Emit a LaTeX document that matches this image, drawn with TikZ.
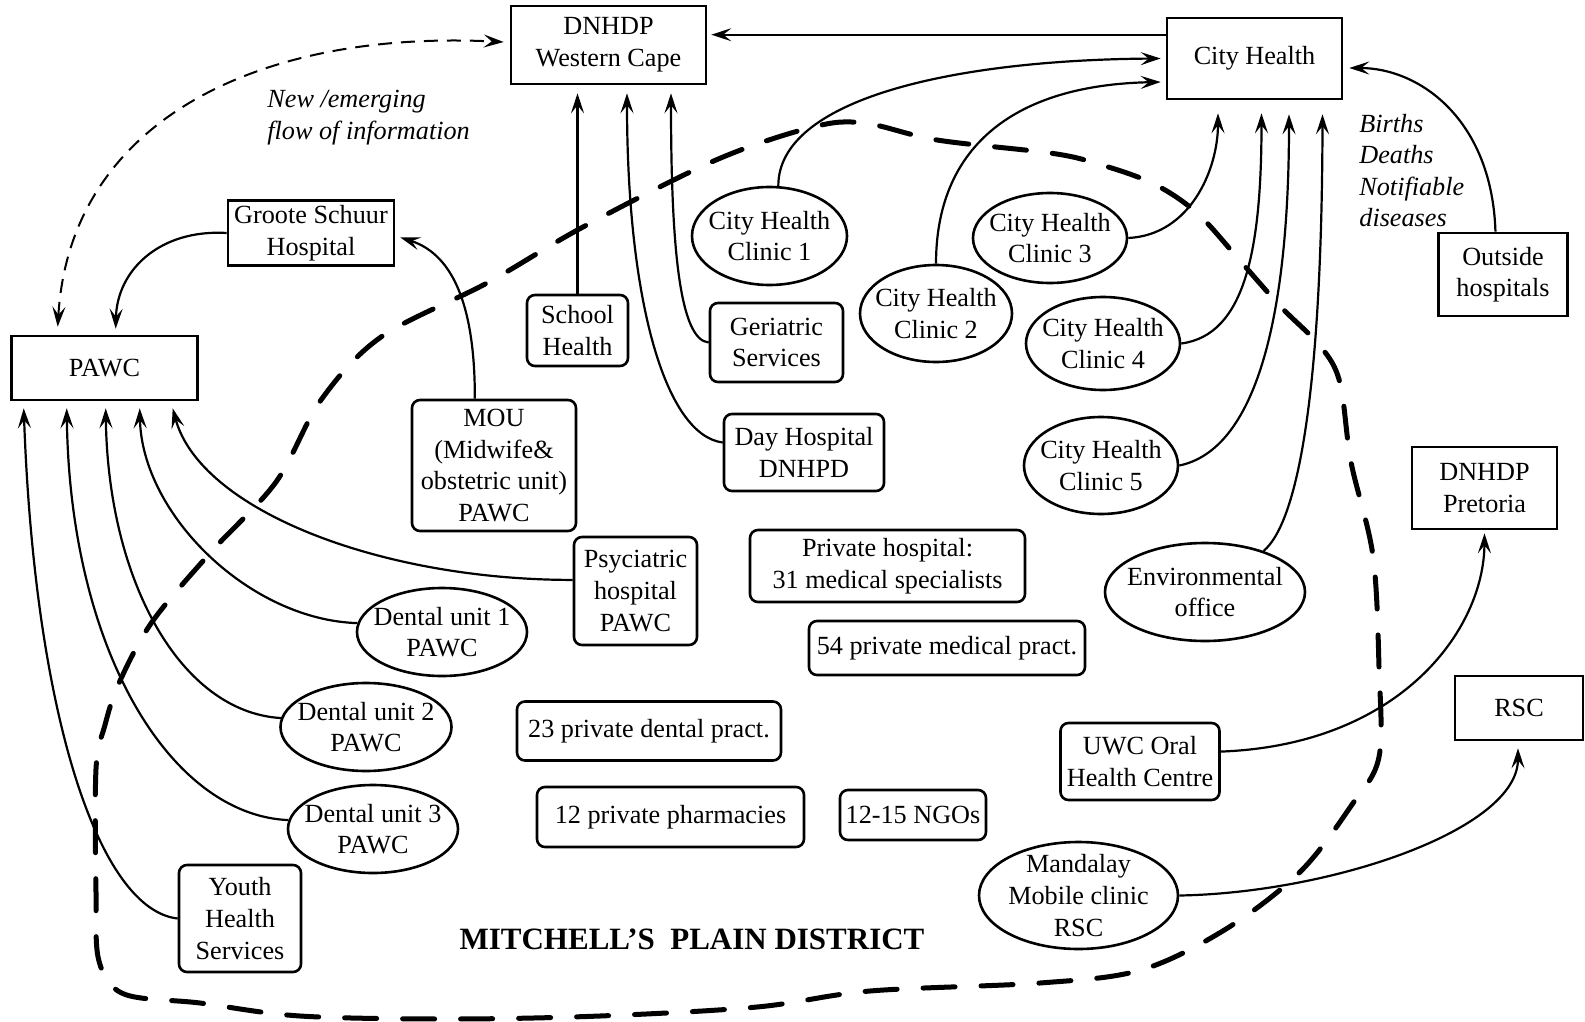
\documentclass[tikz,border=0pt]{standalone}
\usepackage{fontspec}
\setmainfont{Liberation Serif}
\usetikzlibrary{arrows.meta,shapes.geometric,calc}

\begin{document}
\begin{tikzpicture}[x=0.5pt,y=-0.5pt,
    every node/.style={font=\fontsize{13.1}{15.8}\selectfont, align=center, inner sep=0pt},
    box/.style={draw, line width=1.3pt},
    rbox/.style={box, rounded corners=4pt},
    oval/.style={draw, line width=1.3pt, ellipse, inner xsep=-12pt, inner ysep=-4pt},
    wh/.style 2 args={minimum width=#1*0.5pt, minimum height=#2*0.5pt},
    arr/.style={line width=1.1pt, -{Stealth[length=10pt,width=6.5pt,inset=4pt]}},
    flow/.style={line width=1pt, dash pattern=on 7pt off 4.5pt,
        {Stealth[length=10pt,width=6.5pt,inset=4pt]}-{Stealth[length=10pt,width=6.5pt,inset=4pt]}},
    district/.style={line width=2.5pt, line cap=round, dash pattern=on 16pt off 13pt}]
    \useasboundingbox (0,0) rectangle (1585,1022);

    % Head offices
    \node[box, wh={195}{78}] (dnwc) at (608.5,45) {DNHDP\\Western Cape};
    \node[box, wh={175}{81}] (ch) at (1254.5,58.5) {City Health};
    \node[box, wh={166}{65}] (gs) at (311,233) {Groote Schuur\\Hospital};
    \node[box, wh={186}{64}] (pawc) at (104.5,368) {PAWC};
    \node[box, wh={129}{83}] (outside) at (1503,274.5) {Outside\\hospitals};
    \node[box, wh={145}{82}] (pret) at (1484.5,488) {DNHDP\\Pretoria};
    \node[box, wh={128}{64}] (rsc) at (1519,708) {RSC};

    % Services in the district
    \node[rbox, wh={101}{71}] (school) at (577.5,330.5) {School\\Health};
    \node[rbox, wh={133}{79}] (geri) at (776.5,342.5) {Geriatric\\Services};
    \node[rbox, wh={160}{77}] (dayhosp) at (804,452.5) {Day Hospital\\DNHPD};
    \node[rbox, wh={164}{131}] (mou) at (494,465.5) {MOU\\(Midwife\&\\obstetric unit)\\PAWC};
    \node[rbox, wh={123}{108}] (psych) at (635.5,591) {Psyciatric\\hospital\\PAWC};
    \node[oval, wh={170}{88}] (dent1) at (442,632) {Dental unit 1\\PAWC};
    \node[oval, wh={171}{88}] (dent2) at (366,727) {Dental unit 2\\PAWC};
    \node[oval, wh={170}{88}] (dent3) at (373,829) {Dental unit 3\\PAWC};
    \node[rbox, wh={122}{107}] (youth) at (240,918.5) {Youth\\Health\\Services};
    \node[oval, wh={155}{98}] (clin1) at (769.5,236) {City Health\\Clinic 1};
    \node[oval, wh={152}{97}] (clin2) at (936,313.5) {City Health\\Clinic 2};
    \node[oval, wh={154}{90}] (clin3) at (1050,238) {City Health\\Clinic 3};
    \node[oval, wh={154}{93}] (clin4) at (1103,343.5) {City Health\\Clinic 4};
    \node[oval, wh={154}{97}] (clin5) at (1101,465.5) {City Health\\Clinic 5};
    \node[oval, wh={200}{98}] (env) at (1205,592) {Environmental\\office};
    \node[rbox, wh={275}{72}] (privhosp) at (887.5,566) {Private hospital:\\31 medical specialists};
    \node[rbox, wh={276}{54}] (medpract) at (947,648) {54 private medical pract.};
    \node[rbox, wh={264}{59}] (dentpract) at (649,731) {23 private dental pract.};
    \node[rbox, wh={267}{60}] (pharm) at (670.5,817) {12 private pharmacies};
    \node[rbox, wh={146}{50}] (ngo) at (913,815) {12-15 NGOs};
    \node[rbox, wh={159}{77}] (uwc) at (1140,761.5) {UWC Oral\\Health Centre};
    \node[oval, wh={199}{107}] (mandalay) at (1078.5,895.5) {Mandalay\\Mobile clinic\\RSC};

    % Labels
    \node[font=\fontsize{13.1}{15.8}\selectfont\itshape, align=left, anchor=west] (newflow) at (267,117.5) {New /emerging\\flow of information};
    \node[font=\fontsize{13.1}{15.8}\selectfont\itshape, align=left, anchor=west] (vital) at (1359,170.5) {Births\\Deaths\\Notifiable\\diseases};
    \node[font=\fontsize{15.5}{18}\selectfont\bfseries] (distname) at (692,939) {MITCHELL’S\ \ PLAIN DISTRICT};

    % Flows to PAWC
    \draw[arr] (youth.west) .. controls (100,910) and (35,720) .. ($(pawc.south west)+(13.5,7)$);
    \draw[arr] (dent3.174) .. controls (170,815) and (70,650) .. ($(pawc.south west)+(56.5,7)$);
    \draw[arr] (dent2.174) .. controls (180,712) and (108,580) .. ($(pawc.south west)+(95.5,7)$);
    \draw[arr] (dent1.174) .. controls (250,620) and (142,515) .. ($(pawc.south west)+(129.5,7)$);
    \draw[arr] (psych.170) .. controls (380,580) and (200,510) .. ($(pawc.south west)+(162.5,7)$);
    \draw[arr] (gs.west) .. controls (160,229) and (117,270) .. ($(pawc.north west)+(105.5,-6)$);
    \draw[arr] (mou.106) .. controls (475,310) and (455,255) .. ($(gs.-3)+(5,0)$);
    \draw[flow] ($(pawc.north west)+(47.5,-8)$) .. controls (70,120) and (260,30) .. ($(dnwc.west)+(-6,-3)$);

    % Flows to DNHDP Western Cape
    \draw[arr] (ch.165) -- ($(dnwc.east |- ch.165)+(4,0)$);
    \draw[arr] (school.north) -- ($(school.north |- dnwc.south)+(0,8)$);
    \draw[arr] (dayhosp.173) .. controls (665,435) and (627,300) .. ($(dnwc.south)+(18.5,8)$);
    \draw[arr] (geri.west) .. controls (680,340) and (671,250) .. ($(dnwc.south)+(62.5,8)$);

    % Flows to City Health
    \draw[arr] (clin1.80) .. controls (778,100) and (950,60) .. ($(ch.west)+(-5,0)$);
    \draw[arr] (clin2.north) .. controls (936,150) and (1010,85) .. ($(ch.west)+(-5,23.5)$);
    \draw[arr] (clin3.east) .. controls (1190,235) and (1218,170) .. ($(ch.south)+(-36.5,13)$);
    \draw[arr] (clin4.east) .. controls (1245,335) and (1261.5,250) .. ($(ch.south)+(7,13)$);
    \draw[arr] (clin5.east) .. controls (1255,450) and (1289,320) .. ($(ch.south)+(34.5,14)$);
    \draw[arr] (env.35) .. controls (1300,520) and (1322,380) .. ($(ch.south)+(68,14)$);
    \draw[arr] (outside.100) .. controls (1492,120) and (1420,68) .. ($(ch.east)+(6,9.5)$);

    % Flows out of the district
    \draw[arr] (uwc.7) .. controls (1400,745) and (1484,630) .. ($(pret.south)+(0,3)$);
    \draw[arr] (mandalay.east) .. controls (1330,893) and (1518,830) .. ($(rsc.south)+(-1,7)$);

    % District boundary
    \draw[district] plot[smooth cycle, tension=0.55] coordinates {
        (864,123) (937,140) (1050,153) (1095,163) (1152,183) (1197,213) (1242,263)
        (1281,307) (1321,347) (1340,383) (1351,462) (1373,556) (1379,667) (1379,757)
        (1351,806) (1300,872) (1226,929) (1141,970) (1040,983) (870,991) (757,1007)
        (600,1016) (450,1019) (300,1016) (200,1003) (124,994) (99,961) (96,892)
        (96,769) (105,725) (119,683) (152,622) (211,552) (276,482) (321,400)
        (381,337) (487,283) (583,227) (716,160) (813,127)};
\end{tikzpicture}
\end{document}
